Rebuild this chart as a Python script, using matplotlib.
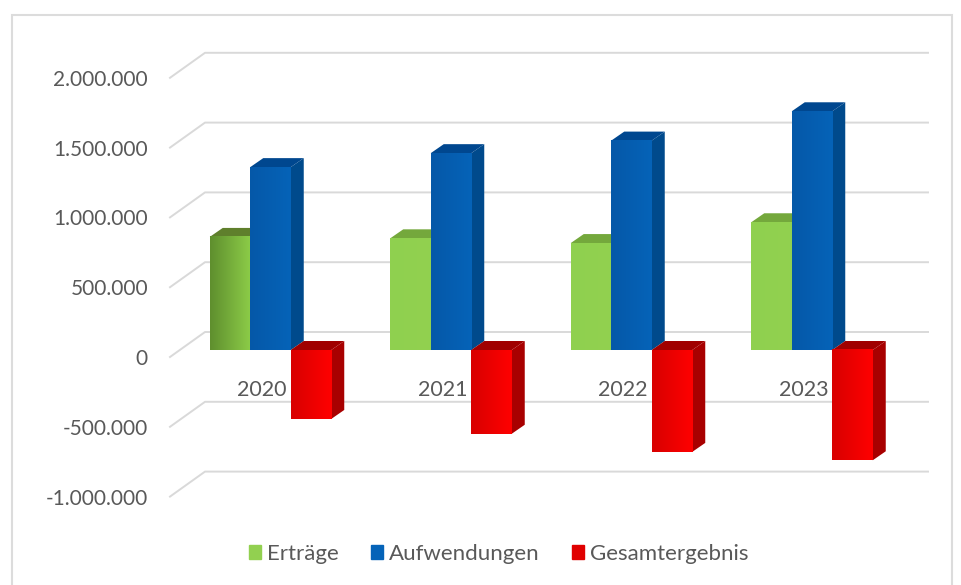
import numpy as np
import matplotlib
matplotlib.use("Agg")
import matplotlib.pyplot as plt
from matplotlib.colors import LinearSegmentedColormap
from matplotlib.patches import Patch, Polygon, Rectangle

years = ["2020", "2021", "2022", "2023"]
ertraege = [810000, 800000, 766000, 915000]
aufwendungen = [1310000, 1410000, 1500000, 1710000]
gesamtergebnis = [-494000, -600000, -730000, -790000]
tick_values = [2000000, 1500000, 1000000, 500000, 0, -500000, -1000000]
tick_labels = ["2.000.000", "1.500.000", "1.000.000", "500.000", "0", "-500.000", "-1.000.000"]

W, H = 962, 585
PX_X = 180.5     # pixels per category
PX_Y = 69.8 / 500000   # pixels per value unit
X0, Y0 = 270.5, 350    # pixel position of first category centre / zero line

plt.rcParams['font.family'] = ['Lato', 'DejaVu Sans']
fig = plt.figure(figsize=(W / 100, H / 100), dpi=100)
ax = fig.add_axes([0, 0, 1, 1])
xlim = ((0 - X0) / PX_X, (W - X0) / PX_X)
ylim = ((Y0 - H) / PX_Y, Y0 / PX_Y)


def dx(px):
    return px / PX_X


def dy(px):
    return px / PX_Y


# outer frame of the picture
ax.add_patch(Rectangle((xlim[0] + dx(12), ylim[0] - dy(10)), dx(940), dy(580), fc="white",
                       ec="#dcdcdc", lw=1.5, zorder=0))

# back wall grid lines with the slanted part on the left
grid_left = xlim[0] + dx(170)
grid_back = xlim[0] + dx(205)
grid_right = xlim[0] + dx(928)
for v, lab in zip(tick_values, tick_labels):
    yb = v + dy(18)
    ax.plot([grid_left, grid_back, grid_right], [v - dy(7), yb, yb], color="#d9d9d9", lw=1.4, zorder=1)
    ax.text(xlim[0] + dx(148), v - dy(9), lab, ha="right", va="center", fontsize=15, color="#595959", zorder=2)

bar_w = dx(40.5)
depth_x = dx(13)
depth_y = dy(9)


def draw_bar(left, val, light, mid, top_col, side_col, z):
    bottom, top = min(val, 0), max(val, 0)
    right = left + bar_w
    ax.add_patch(Polygon([(right, bottom), (right + depth_x, bottom + depth_y),
                          (right + depth_x, top + depth_y), (right, top)], fc=side_col, ec="none", zorder=z))
    ax.add_patch(Polygon([(left, top), (left + depth_x, top + depth_y),
                          (right + depth_x, top + depth_y), (right, top)], fc=top_col, ec="none", zorder=z))
    cmap = LinearSegmentedColormap.from_list("b", [light, mid])
    ax.imshow(np.linspace(0, 1, 64).reshape(1, -1), cmap=cmap, aspect="auto",
              extent=(left, right, bottom, top), zorder=z, interpolation="bilinear")


for i, year in enumerate(years):
    left = i - 1.5 * bar_w
    if i == 0:
        draw_bar(left, ertraege[i], "#5f8f2e", "#8ccc48", "#5f7f2c", "#6f9f35", 3)
    else:
        draw_bar(left, ertraege[i], "#8fd14f", "#92d050", "#74a83c", "#6f9f35", 3)
    draw_bar(left + bar_w, aufwendungen[i], "#0658a8", "#0563b8", "#00478f", "#004a8c", 4)
    draw_bar(left + 2 * bar_w, gesamtergebnis[i], "#d80000", "#ff0000", "#a00000", "#a80000", 5)
    ax.text(i - dx(8.5), dy(-40), year, ha="center", va="center", fontsize=15.5, color="#595959", zorder=4)

ax.set_xlim(xlim)
ax.set_ylim(ylim)
ax.axis("off")

handles = [Patch(color="#92d050", label="Erträge"),
           Patch(color="#0563b8", label="Aufwendungen"),
           Patch(color="#e00000", label="Gesamtergebnis")]
leg = ax.legend(handles=handles, ncol=3, loc="center", bbox_to_anchor=(498.5 / W, 1 - 554 / H), frameon=False,
                fontsize=16, handlelength=0.55, handleheight=0.55, handletextpad=0.27, columnspacing=1.45,
                labelcolor="#595959")

fig.savefig("out.png", dpi=100)
